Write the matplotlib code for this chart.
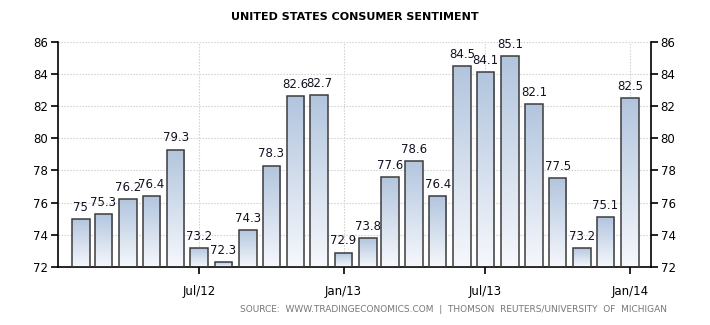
import datetime
import numpy as np
import matplotlib
matplotlib.use('Agg')
import matplotlib.pyplot as plt
import matplotlib.dates as mdates
from matplotlib.colors import LinearSegmentedColormap

months = [datetime.date(2012, 2, 1)]
while len(months) < 24:
    m = months[-1]
    months.append(datetime.date(m.year + m.month // 12, m.month % 12 + 1, 1))

sentiment = [75.0, 75.3, 76.2, 76.4, 79.3, 73.2, 72.3, 74.3, 78.3, 82.6, 82.7, 72.9,
             73.8, 77.6, 78.6, 76.4, 84.5, 84.1, 85.1, 82.1, 77.5, 73.2, 75.1, 82.5]
value_labels = ['75', '75.3', '76.2', '76.4', '79.3', '73.2', '72.3', '74.3', '78.3', '82.6',
                '82.7', '72.9', '73.8', '77.6', '78.6', '76.4', '84.5', '84.1', '85.1', '82.1',
                '77.5', '73.2', '75.1', '82.5']
tick_dates = [datetime.date(2012, 7, 1), datetime.date(2013, 1, 1),
              datetime.date(2013, 7, 1), datetime.date(2014, 1, 1)]
tick_labels = ['Jul/12', 'Jan/13', 'Jul/13', 'Jan/14']

plt.rcParams['font.family'] = ['DejaVu Sans']

fig = plt.figure(figsize=(7.1, 3.25), dpi=100)
ax = fig.add_axes([58 / 710, 1 - 267 / 325, 593 / 710, (267 - 41.7) / 325])

ymin, ymax = 72, 86
x = mdates.date2num(months)
width = 22.5
cmap = LinearSegmentedColormap.from_list('fade', ['#f6f8fc', '#b2c5de'])
grad = np.linspace(0, 1, 256).reshape(-1, 1)

bars = ax.bar(x, [v - ymin for v in sentiment], width=width, bottom=ymin,
              facecolor='none', edgecolor='#3c3c3c', linewidth=1.1, zorder=3)
for bar, v, lab in zip(bars, sentiment, value_labels):
    x0 = bar.get_x()
    # vertical fade inside each bar, clipped to the bar outline
    img = ax.imshow(grad, cmap=cmap, aspect='auto', origin='lower',
                    extent=(x0, x0 + width, ymin, v), zorder=2)
    img.set_clip_path(bar)
    ax.text(x0 + width / 2, v + 0.32, lab, ha='center', va='bottom',
            fontsize=8.5, color='#111122', zorder=4)

ax.set_xlim(mdates.date2num(datetime.date(2012, 1, 3)),
            mdates.date2num(datetime.date(2014, 1, 28)))
ax.set_ylim(ymin, ymax)
ax.set_xticks(mdates.date2num(tick_dates))
ax.set_xticklabels(tick_labels)
ax.set_yticks(range(72, 87, 2))

ax.grid(True, color='#cccccc', linestyle=(0, (1.2, 1.5)), linewidth=0.8, zorder=0)
ax.set_axisbelow(True)
ax.spines['top'].set_visible(False)
for side in ['left', 'right', 'bottom']:
    ax.spines[side].set_color('black')
    ax.spines[side].set_linewidth(1.2)

ax.tick_params(axis='both', direction='out', length=5, width=1.2,
               labelsize=8.5, colors='black')
ax.tick_params(axis='y', left=True, right=True, labelleft=True, labelright=True, pad=2)
ax.tick_params(axis='x', pad=8)

fig.text(355 / 710, 1 - 17 / 325, 'UNITED STATES CONSUMER SENTIMENT', ha='center',
         va='center', fontsize=8, fontweight='bold', color='black')
fig.text(667 / 710, 1 - 309 / 325,
         'SOURCE:  WWW.TRADINGECONOMICS.COM  |  THOMSON  REUTERS/UNIVERSITY  OF  MICHIGAN',
         ha='right', va='center', fontsize=6.5, color='#777777')

fig.savefig('out.png', dpi=100)
